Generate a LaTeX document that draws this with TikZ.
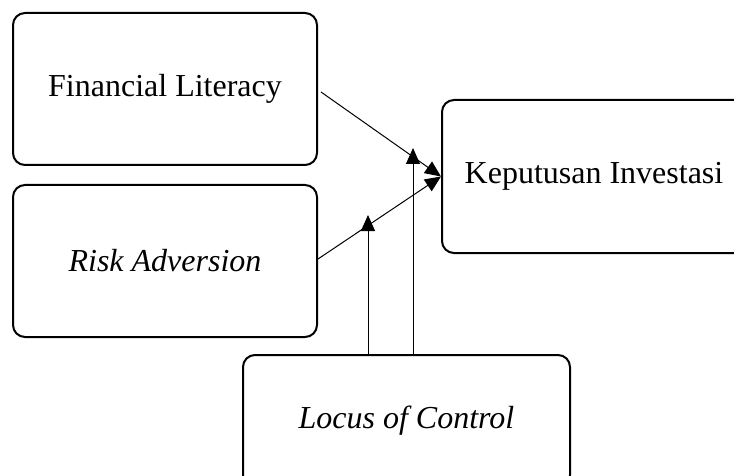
\documentclass[tikz,border=0pt]{standalone}
\usepackage{fontspec}
\setmainfont{Liberation Serif}
\usetikzlibrary{arrows.meta}
\begin{document}
\begin{tikzpicture}[x=1pt,y=-1pt,
  box/.style={draw=black, line width=2pt, rounded corners=12pt, inner sep=0pt,
    align=center, font=\fontsize{32}{38}\selectfont},
  arr/.style={line width=1pt, -{Triangle[length=16pt,width=14pt]}}]
\clip (0,0) rectangle (734,476);
\node[box, minimum width=304pt, minimum height=152pt] (fl) at (165,89) {Financial Literacy};
\node[box, minimum width=304pt, minimum height=152pt] (ra) at (165,261) {\textit{Risk Adversion}};
\node[box, minimum width=304pt, minimum height=153pt] (ki) at (594,176.5) {Keputusan Investasi};
\node[box, minimum width=327pt, minimum height=132pt] (lc) at (406.5,421) {\textit{Locus of Control}};
\coordinate (s1) at (321,92);
\coordinate (s2) at (318,259);
\coordinate (m1) at (368,215);
\coordinate (m2) at (413,148);
\draw[arr] (s1) -- (ki.west);
\draw[arr] (s2) -- (ki.west);
\draw[arr] (lc.north -| m1) -- (m1);
\draw[arr] (lc.north -| m2) -- (m2);
\end{tikzpicture}
\end{document}
